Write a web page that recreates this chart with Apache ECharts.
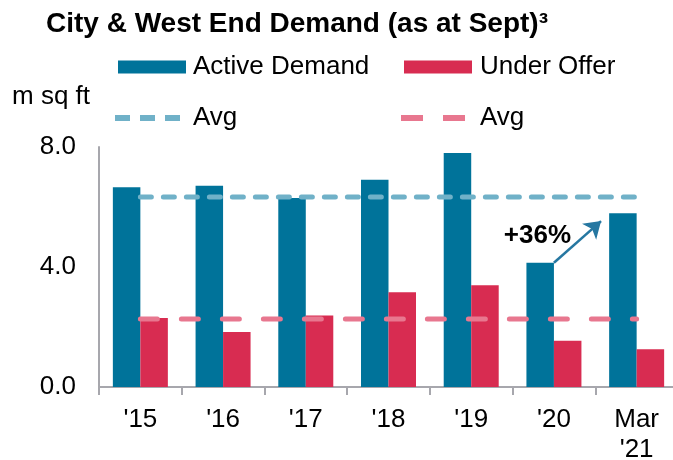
<!DOCTYPE html>
<html>
<head>
<meta charset="utf-8">
<script src="https://cdn.jsdelivr.net/npm/echarts@6/dist/echarts.min.js"></script>
<style>
  html, body { margin: 0; padding: 0; background: #fff; }
  #chart { width: 673px; height: 460px; }
</style>
</head>
<body>
<div id="chart"></div>
<script>
var categories = ["'15", "'16", "'17", "'18", "'19", "'20", "Mar\n'21"]
var activeDemand = [6.66, 6.71, 6.30, 6.91, 7.80, 4.14, 5.79]
var underOffer = [2.30, 1.83, 2.38, 3.16, 3.39, 1.54, 1.26]
var activeAvg = 6.33
var underAvg = 2.27
var yMin = 0
var yMax = 8
var yStep = 4
// arrow + label, in (band position, value) units: band i spans i..i+1
var growthArrow = [[5.5, 4.14], [6.07, 5.53]]
var growthText = '+36%'
var growthTextAt = [5.30, 5.05]

var font = "'Liberation Sans', Arial, sans-serif"
var blue = '#00739a'
var red = '#d82c51'
var blueAvg = '#70b1c8'
var redAvg = '#e8778f'

var chart = echarts.init(document.getElementById('chart'))

function avgLine(v) {
  return categories.map(function () { return v })
}

var dash3 = 'path://M0,0h15v6h-15z M25,0h15v6h-15z M50,0h15v6h-15z'
var dash2 = 'path://M0,0h22v6h-22z M42,0h22v6h-22z'

function oneLegend(name, left, top, w, h, icon, color, pad) {
  return {
    data: [{ name: name, icon: icon, itemStyle: { color: color } }],
    left: left,
    top: top,
    padding: 0,
    itemWidth: w,
    itemHeight: h,
    selectedMode: false,
    formatter: function (n) { return n.indexOf('Avg') === 0 ? 'Avg' : n },
    textStyle: { fontFamily: font, fontSize: 26, color: '#000', padding: [0, 0, 0, pad] }
  }
}

var option = {
  animation: false,
  backgroundColor: '#fff',
  title: [
    {
      text: 'City & West End Demand (as at Sept)³',
      left: 46,
      top: 10,
      padding: 0,
      textStyle: { fontFamily: font, fontSize: 28, fontWeight: 'bold', color: '#000' }
    },
    {
      text: 'm sq ft',
      left: 12,
      top: 84,
      padding: 0,
      textStyle: { fontFamily: font, fontSize: 26, fontWeight: 'normal', color: '#000' }
    }
  ],
  legend: [
    oneLegend('Active Demand', 118, 54, 68, 13, 'rect', blue, 2),
    oneLegend('Under Offer', 404, 54, 68, 13, 'rect', red, 3),
    oneLegend('Avg A', 115, 105, 65, 6, dash3, blueAvg, 8),
    oneLegend('Avg U', 401, 105, 64, 6, dash2, redAvg, 10)
  ],
  grid: { left: 99, top: 147, width: 579, height: 240, containLabel: false, outerBoundsMode: 'none' },
  xAxis: [
    {
      type: 'category',
      data: categories,
      axisLine: { lineStyle: { color: '#a7a7ad', width: 2 } },
      axisTick: { show: true, length: 8, lineStyle: { color: '#a7a7ad', width: 2 } },
      axisLabel: { fontFamily: font, fontSize: 26, color: '#000', margin: 18, lineHeight: 30 }
    },
    { type: 'value', min: 0, max: 7, show: false }
  ],
  yAxis: {
    type: 'value',
    min: yMin,
    max: yMax,
    interval: yStep,
    axisLine: { show: true, lineStyle: { color: '#a7a7ad', width: 2 } },
    axisTick: { show: false },
    splitLine: { show: false },
    axisLabel: {
      fontFamily: font, fontSize: 26, color: '#000', margin: 23,
      formatter: function (v) { return v.toFixed(1) }
    }
  },
  series: [
    {
      name: 'Active Demand', type: 'bar', data: activeDemand,
      barWidth: 27.5, barGap: '0%', itemStyle: { color: blue }, z: 2
    },
    {
      name: 'Under Offer', type: 'bar', data: underOffer,
      barWidth: 27.5, barGap: '0%', itemStyle: { color: red }, z: 2
    },
    {
      name: 'Avg A', type: 'line', data: avgLine(activeAvg), symbol: 'none', z: 3,
      color: blueAvg,
      lineStyle: { color: blueAvg, width: 5, type: [11, 12], cap: 'round' }
    },
    {
      name: 'Avg U', type: 'line', data: avgLine(underAvg), symbol: 'none', z: 3,
      color: redAvg,
      lineStyle: { color: redAvg, width: 5, type: [17, 24], cap: 'round' }
    },
    {
      type: 'lines', coordinateSystem: 'cartesian2d', xAxisIndex: 1, yAxisIndex: 0, z: 4,
      symbol: ['none', 'arrow'], symbolSize: 16,
      lineStyle: { color: '#2677a1', width: 2.5, opacity: 1, curveness: 0 },
      data: [{ coords: growthArrow }]
    },
    {
      type: 'scatter', xAxisIndex: 1, yAxisIndex: 0, z: 4, symbolSize: 1,
      itemStyle: { color: 'rgba(0,0,0,0)', opacity: 1 },
      label: {
        show: true, position: 'inside', formatter: growthText, opacity: 1,
        fontFamily: font, fontSize: 26, fontWeight: 'bold', color: '#000',
        textBorderWidth: 0
      },
      data: [growthTextAt]
    }
  ]
}

chart.setOption(option)
</script>
</body>
</html>
